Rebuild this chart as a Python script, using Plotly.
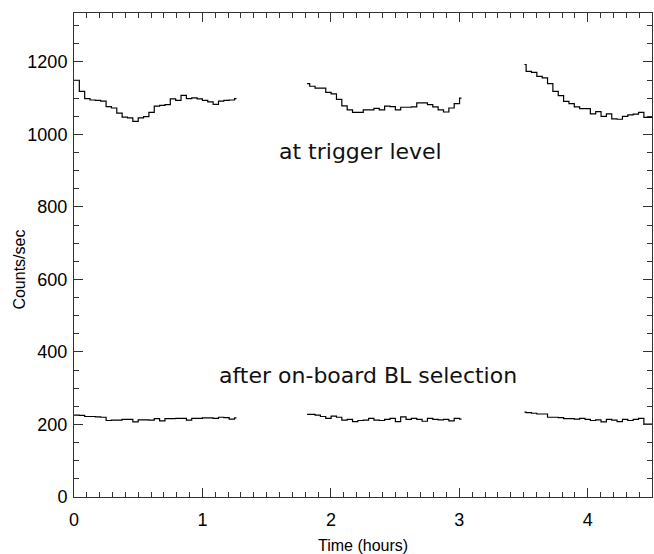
import plotly.graph_objects as go

# Count rates binned in 2.5-minute intervals (time in hours)
BIN_H = 1.0 / 24.0

# Orbit segments: start time, first bin boundary, end time
seg_start = [0.0, 1.8144, 3.507]
seg_first_step = [0.0415, 1.8351, 3.520]
seg_end = [1.265, 3.017, 4.5]

# Rate at trigger level (counts/sec)
trig_1 = [1149, 1119, 1099, 1095, 1094, 1092, 1077, 1073, 1059, 1048, 1046,
          1036, 1046, 1049, 1061, 1078, 1080, 1082, 1098, 1094, 1108, 1099,
          1101, 1098, 1094, 1090, 1083, 1092, 1094, 1095, 1099]
trig_2 = [1140, 1133, 1128, 1128, 1116, 1112, 1097, 1079, 1068, 1061, 1061,
          1068, 1068, 1072, 1068, 1078, 1077, 1068, 1075, 1075, 1076, 1087,
          1087, 1082, 1076, 1068, 1062, 1073, 1085, 1100]
trig_3 = [1193, 1174, 1171, 1160, 1156, 1140, 1119, 1107, 1091, 1085, 1076,
          1071, 1071, 1057, 1063, 1050, 1057, 1043, 1042, 1050, 1054, 1056,
          1061, 1047]

# Rate after on-board BL selection (counts/sec)
bl_1 = [226, 225, 222, 222, 221, 220, 211, 212, 212, 214, 214, 207, 213, 213,
        212, 216, 210, 216, 216, 217, 217, 212, 217, 217, 218, 218, 217, 220,
        219, 215, 218]
bl_2 = [228, 228, 226, 222, 217, 223, 220, 212, 214, 208, 211, 212, 217, 212,
        211, 214, 217, 208, 221, 214, 217, 214, 209, 217, 214, 213, 214, 210,
        217, 215]
bl_3 = [234, 233, 231, 229, 229, 220, 220, 219, 216, 216, 215, 217, 214, 211,
        213, 207, 214, 212, 208, 214, 211, 214, 217, 201]

x_ticks = [0, 1, 2, 3, 4]
y_ticks = [0, 200, 400, 600, 800, 1000, 1200]


def steps(i, vals):
    """Bin edges for one segment, drawn as a histogram-style step line."""
    x = [seg_start[i]] + [seg_first_step[i] + k * BIN_H for k in range(len(vals) - 1)] + [seg_end[i]]
    y = list(vals) + [vals[-1]]
    return x, y


fig = go.Figure()
for i, vals in enumerate([trig_1, trig_2, trig_3, bl_1, bl_2, bl_3]):
    x, y = steps(i % 3, vals)
    fig.add_trace(go.Scatter(x=x, y=y, mode="lines", line_shape="hv",
                             line=dict(color="black", width=1.2),
                             showlegend=False, hoverinfo="skip"))

axis_col = "#333333"
tick_font = dict(family="Liberation Sans, Arial, sans-serif", size=18, color="black")

fig.update_xaxes(range=[0, 4.5], tickvals=x_ticks, ticks="inside", ticklen=9,
                 tickwidth=1, tickcolor=axis_col, showline=True, linecolor=axis_col,
                 linewidth=1, mirror="ticks", showgrid=False, zeroline=False,
                 tickfont=tick_font, ticklabelstandoff=6,
                 minor=dict(dtick=0.1, tick0=0, ticks="inside", ticklen=5,
                            tickcolor=axis_col, showgrid=False))
fig.update_yaxes(range=[0, 1335], tickvals=y_ticks, ticks="inside", ticklen=9,
                 tickwidth=1, tickcolor=axis_col, showline=True, linecolor=axis_col,
                 linewidth=1, mirror="ticks", showgrid=False, zeroline=False,
                 tickfont=tick_font, ticklabelstandoff=2,
                 minor=dict(dtick=50, tick0=0, ticks="inside", ticklen=5,
                            tickcolor=axis_col, showgrid=False))

label_font = dict(family="DejaVu Sans, sans-serif", size=22, color="#111111")
title_font = dict(family="Liberation Sans, Arial, sans-serif", size=16, color="black")

fig.add_annotation(x=2.23, y=952, xref="x", yref="y", text="at trigger level",
                   showarrow=False, font=label_font)
fig.add_annotation(x=2.29, y=334, xref="x", yref="y", text="after on-board BL selection",
                   showarrow=False, font=label_font)
fig.add_annotation(x=-0.095, y=0.47, xref="paper", yref="paper", text="Counts/sec",
                   textangle=-90, showarrow=False, font=title_font,
                   xanchor="center", yanchor="middle")
fig.add_annotation(x=0.5, y=-0.1, xref="paper", yref="paper", text="Time (hours)",
                   showarrow=False, font=title_font, xanchor="center", yanchor="middle")

fig.update_layout(width=654, height=554, margin=dict(l=74, r=2, t=13, b=57),
                  paper_bgcolor="white", plot_bgcolor="white")

fig.write_html("out.html")
